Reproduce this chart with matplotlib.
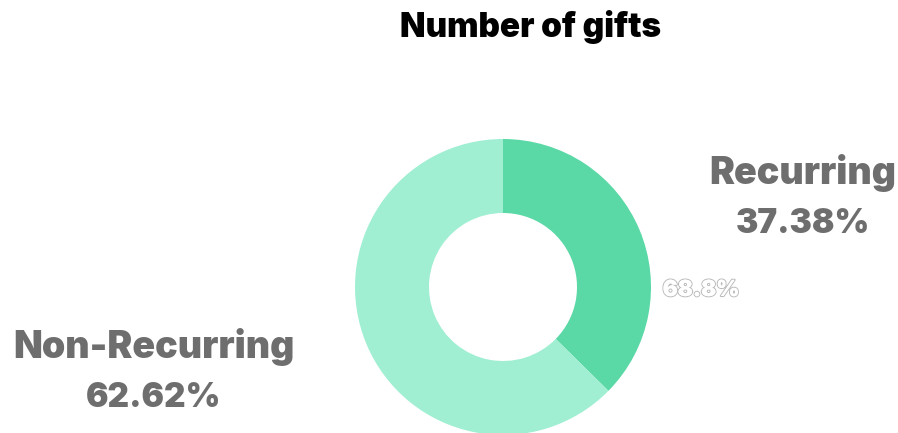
import matplotlib.pyplot as plt
import matplotlib.patheffects as pe

labels = ['Recurring', 'Non-Recurring']
shares = [37.38, 62.62]
colors = ['#5AD8A6', '#A0EFD3']
hover_label = '68.8%'

W, H = 898, 433
fig = plt.figure(figsize=(W / 100, H / 100), dpi=100)
ax = fig.add_axes([0, 0, 1, 1])

# donut, clockwise from 12 o'clock
cx, cy, r = 503, H - 287, 148
ax.pie(shares, colors=colors, startangle=90, counterclock=False,
       center=(cx, cy), radius=r, frame=True,
       wedgeprops=dict(width=r * 0.5, edgecolor='none'))
ax.set_xlim(0, W)
ax.set_ylim(0, H)
ax.set_aspect('equal')
ax.axis('off')

font = dict(family=['Inter', 'DejaVu Sans'], fontweight='black',
            fontstyle='normal')
gray = '#6e6e6e'

ax.text(531, H - 27, 'Number of gifts', ha='center', va='center',
        fontsize=24, color='black', **font)

# outside labels
pos = {'Recurring': (803, 173, 224), 'Non-Recurring': (154, 347, 398)}
for name, val in zip(labels, shares):
    x, y1, y2 = pos[name]
    ax.text(x, H - y1, name, ha='center', va='center', fontsize=27,
            color=gray, **font)
    ax.text(x, H - y2, f'{val:.2f}%', ha='center', va='center',
            fontsize=24, color=gray, **font)

ax.text(701, H - 290, hover_label, ha='center', va='center', fontsize=16,
        color='white', **font,
        path_effects=[pe.withStroke(linewidth=1.6, foreground='#bdbdbd'),
                      pe.Normal()])

fig.savefig('out.png', dpi=100)
